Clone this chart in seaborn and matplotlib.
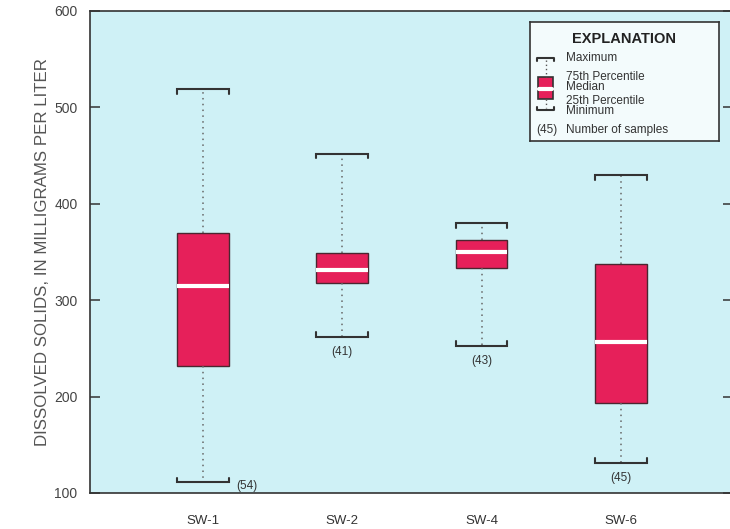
import matplotlib
matplotlib.use("Agg")
import matplotlib.pyplot as plt
import seaborn as sns
import pandas as pd
from matplotlib.patches import Rectangle

# ---- data ----
stations = ["SW-1", "SW-2", "SW-4", "SW-6"]
minimum = [111, 262, 253, 131]
q25 = [232, 318, 333, 193]
median = [315, 331, 350, 257]
q75 = [370, 349, 362, 338]
maximum = [519, 452, 380, 430]
n_samples = [54, 41, 43, 45]
y_ticks = [100, 200, 300, 400, 500, 600]

# five-number summary per station -> long table for seaborn
rows = []
for s, a, b, c, d, e in zip(stations, minimum, q25, median, q75, maximum):
    for v in (a, b, c, d, e):
        rows.append({"station": s, "value": v})
df = pd.DataFrame(rows)

BOX = "#E6205A"
BG = "#CFF1F6"
DARK = "#333333"
FONT = ["Liberation Sans", "DejaVu Sans"]

sns.set_theme(style="white")
plt.rcParams["font.family"] = FONT

fig = plt.figure(figsize=(7.30, 5.29), dpi=100, facecolor="white")
ax = fig.add_axes([90 / 730, 36 / 529, 643 / 730, 482 / 529])
ax.set_facecolor(BG)

box_w = 0.37
sns.boxplot(
    data=df, x="station", y="value", order=stations, ax=ax,
    whis=(0, 100), width=box_w, color=BOX, saturation=1,
    linecolor="#4a2630", linewidth=1.0, showfliers=False,
    medianprops=dict(color="white", linewidth=3),
    whiskerprops=dict(color="#666666", linewidth=1.1, linestyle=(0, (1, 2.8))),
    capprops=dict(linewidth=0),
)

# bracket-style caps from the data
hw = box_w / 2
hook = 5
for i in range(len(stations)):
    mx, mn = maximum[i], minimum[i]
    ax.plot([i - hw, i - hw, i + hw, i + hw], [mx - hook, mx, mx, mx - hook],
            color=DARK, lw=1.5, solid_joinstyle="miter", zorder=5)
    ax.plot([i - hw, i - hw, i + hw, i + hw], [mn + hook, mn, mn, mn + hook],
            color=DARK, lw=1.5, solid_joinstyle="miter", zorder=5)
    label = f"({n_samples[i]})"
    if i == 0:
        ax.annotate(label, xy=(i + hw, mn), xytext=(8, -4), textcoords="offset pixels",
                    ha="left", va="center", fontsize=8.5, color=DARK)
    else:
        ax.annotate(label, xy=(i, mn), xytext=(0, -15), textcoords="offset pixels",
                    ha="center", va="center", fontsize=8.5, color=DARK)

ax.set_xlim(-0.81, 3.805)
ax.set_ylim(100, 600)
ax.set_yticks(y_ticks)
ax.set_xlabel("")
ax.set_ylabel("DISSOLVED SOLIDS, IN MILLIGRAMS PER LITER", fontsize=12.2,
              color="#555555", labelpad=3)
ax.tick_params(axis="y", direction="in", length=7, width=1.1, color=DARK,
               labelsize=10, labelcolor="#444444", pad=9, right=True, left=True)
ax.tick_params(axis="x", length=0, labelsize=9.5, labelcolor="#333333", pad=16)
for sp in ax.spines.values():
    sp.set_visible(True)
    sp.set_color(DARK)
    sp.set_linewidth(1.2)

# ---- explanation box (pixel-based inset) ----
lg = fig.add_axes([530 / 730, (529 - 141) / 529, 189 / 730, 119 / 529])
lg.set_xlim(0, 189)
lg.set_ylim(119, 0)
lg.set_facecolor("#F3FBFC")
lg.set_xticks([])
lg.set_yticks([])
for sp in lg.spines.values():
    sp.set_color(DARK)
    sp.set_linewidth(1.2)
lg.text(94, 17, "EXPLANATION", ha="center", va="center", fontsize=10.5,
        fontweight="bold", color="#222222")
# icon
x0, x1 = 7, 24
xc = (x0 + x1) / 2
lg.plot([x0, x0, x1, x1], [39, 36, 36, 39], color=DARK, lw=1.5)
lg.plot([xc, xc], [38, 55], color="#555555", lw=1, linestyle=(0, (1, 2)))
lg.add_patch(Rectangle((x0 + 1, 55), x1 - x0 - 2, 22, facecolor=BOX,
                       edgecolor=DARK, lw=1.2))
lg.plot([x0 + 2, x1 - 2], [67, 67], color="white", lw=3)
lg.plot([xc, xc], [77, 86], color="#555555", lw=1, linestyle=(0, (1, 2)))
lg.plot([x0, x0, x1, x1], [85, 88, 88, 85], color=DARK, lw=1.5)
tkw = dict(ha="left", va="center", fontsize=8.5, color="#333333")
lg.text(36, 36, "Maximum", **tkw)
lg.text(36, 55.5, "75th Percentile", **tkw)
lg.text(36, 65.5, "Median", **tkw)
lg.text(36, 79, "25th Percentile", **tkw)
lg.text(36, 89, "Minimum", **tkw)
lg.text(6, 108, "(45)", **tkw)
lg.text(36, 108, "Number of samples", **tkw)

fig.savefig("out.png", dpi=100, facecolor="white")
